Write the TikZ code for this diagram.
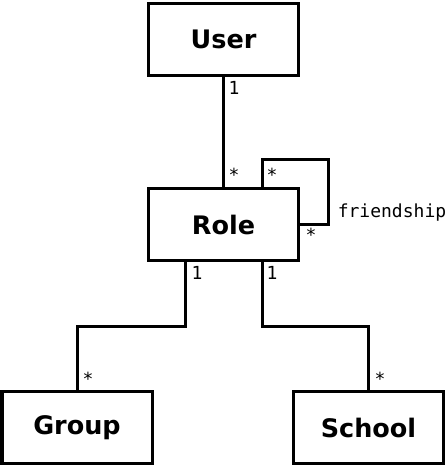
\documentclass[tikz,border=0pt]{standalone}
\usepackage{fontspec}
\setsansfont{DejaVu Sans}
\setmonofont{DejaVu Sans Mono}
\usetikzlibrary{positioning, calc}

\begin{document}
\begin{tikzpicture}[
    x=1pt, y=-1pt,
    line width=3pt,
    cls/.style={
      rectangle,
      draw,
      minimum width=150pt,
      minimum height=72pt,
      inner sep=0pt,
      font=\fontsize{25.5}{30}\selectfont\sffamily\bfseries
    },
    mult/.style={font=\fontsize{18}{20}\selectfont\ttfamily, inner sep=0pt}
]
\useasboundingbox (0,0) rectangle (448,467);

% classes
\node[cls] (user) at (223.5,39) {User};
\node[cls] (role) at (223.5,224.5) {Role};
\node[cls] (group) at (77,427.5) {Group};
\node[cls] (school) at (368.5,427.5) {School};

% bend points
\coordinate (lg) at ($(role.south)+(-38.5,0)$);
\coordinate (ls) at ($(role.south)+(38.5,0)$);
\coordinate (fa) at ($(role.north)+(38.5,0)$);
\coordinate (fb) at (role.east);

% user - role
\draw (user.south) -- (role.north);
\node[mult] at (234,88) {1};
\node[mult] at (234,175) {*};

% friendship
\draw (fa) -- ++(0,-28) -| ($(fb)+(28,0)$) -- (fb);
\node[mult] at (272,175) {*};
\node[mult] at (311,235) {*};
\node[mult] at (392,213) {friendship};

% role - group
\draw (lg) |- (77,326) -- (group.north);
\node[mult] at (197,273) {1};
\node[mult] at (88,379) {*};

% role - school
\draw (ls) |- (368.5,326) -- (school.north);
\node[mult] at (272,273) {1};
\node[mult] at (380,379) {*};

\end{tikzpicture}
\end{document}
